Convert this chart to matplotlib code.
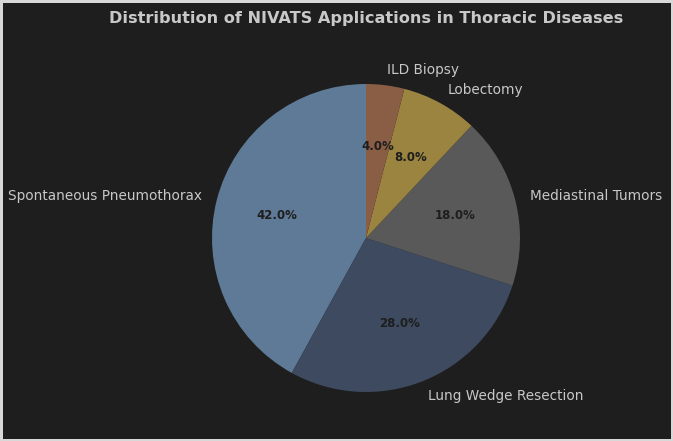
import matplotlib
matplotlib.use('Agg')
import matplotlib.pyplot as plt

labels = ['Spontaneous Pneumothorax', 'Lung Wedge Resection', 'Mediastinal Tumors',
          'Lobectomy', 'ILD Biopsy']
shares = [42, 28, 18, 8, 4]
colors = ['#5e7a96', '#3d4a5f', '#595959', '#9a8440', '#8a5e45']

BG_COLOR = '#1e1e1e'
TEXT_COLOR = '#c8c8c8'

W, H = 673, 441
fig = plt.figure(figsize=(W / 100, H / 100), dpi=100)
fig.patch.set_facecolor(BG_COLOR)
fig.patch.set_edgecolor('#d8d8d8')
fig.patch.set_linewidth(2.5)

# pie radius ~154 px, centred at (366, 238) from top-left
r = 154
cx, cy = 366, 238
side = 2.5 * r
ax = fig.add_axes([(cx - side / 2) / W, (H - cy - side / 2) / H, side / W, side / H])
ax.set_facecolor(BG_COLOR)

wedges, texts, autotexts = ax.pie(shares, labels=labels, colors=colors,
                                  autopct='%1.1f%%', startangle=90,
                                  textprops={'color': TEXT_COLOR, 'fontsize': 9.8})
for t in autotexts:
    t.set_color('#1e1e1e')
    t.set_fontweight('bold')
    t.set_fontsize(8.5)

fig.text(cx / W, 1 - 18 / H, 'Distribution of NIVATS Applications in Thoracic Diseases',
         ha='center', va='center', fontsize=11.6, fontweight='bold', color=TEXT_COLOR)

fig.savefig('out.png', dpi=100, facecolor=BG_COLOR, edgecolor='#d8d8d8')
